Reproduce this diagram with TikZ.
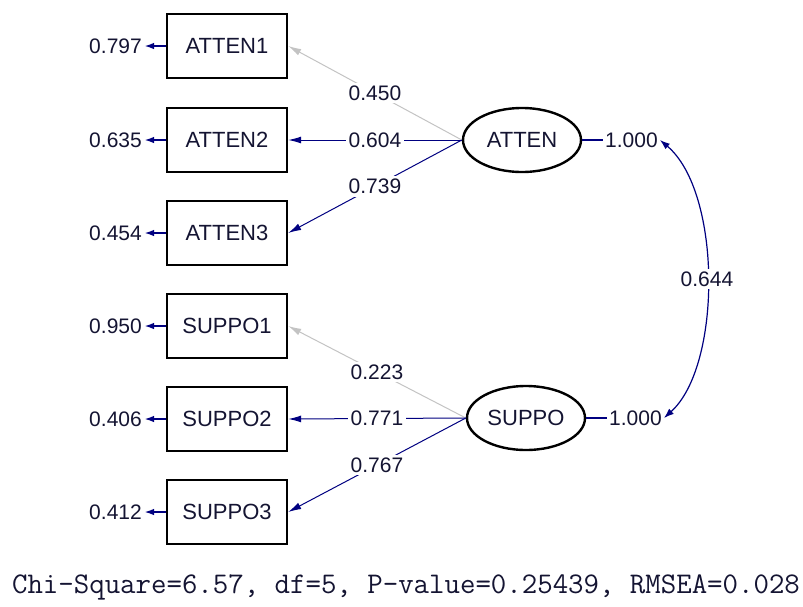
\documentclass[tikz,border=0pt]{standalone}
\usepackage{fontspec}
\setmainfont{Liberation Sans}
\usetikzlibrary{arrows.meta,shapes.geometric}
\definecolor{pathnavy}{RGB}{0,0,128}
\definecolor{pathgrey}{RGB}{195,195,195}
\definecolor{labink}{RGB}{20,20,50}
\tikzset{
  obsbox/.style={draw=black, line width=2.4pt, minimum width=120pt, minimum height=64pt,
    inner sep=0pt, font=\fontsize{22}{26}\selectfont, text=labink},
  latent/.style={draw=black, line width=2.4pt, ellipse, minimum width=118pt, minimum height=64pt,
    inner sep=0pt, font=\fontsize{22}{26}\selectfont, text=labink},
  numlab/.style={font=\fontsize{21}{25}\selectfont, text=labink, inner sep=2pt},
  onlab/.style={numlab, fill=white, inner sep=3pt},
  loadtip/.style={-{Latex[length=13pt,width=7pt]}},
  load/.style={loadtip, draw=pathnavy, line width=1pt},
  weak/.style={loadtip, draw=pathgrey, line width=1pt},
  errarr/.style={-{Latex[length=10pt,width=6.5pt]}, draw=pathnavy, line width=2.4pt},
  vline/.style={draw=pathnavy, line width=1.2pt},
  covarr/.style={{Latex[length=10pt,width=7pt]}-{Latex[length=10pt,width=7pt]}, draw=pathnavy, line width=1.2pt}
}
\begin{document}
\begin{tikzpicture}[x=1pt, y=-1pt]
\useasboundingbox (0,0) rectangle (803,606);

% observed indicators
\node[obsbox] (a1) at (227,46)  {ATTEN1};
\node[obsbox] (a2) at (227,140) {ATTEN2};
\node[obsbox] (a3) at (227,233) {ATTEN3};
\node[obsbox] (s1) at (227,326) {SUPPO1};
\node[obsbox] (s2) at (227,419) {SUPPO2};
\node[obsbox] (s3) at (227,512) {SUPPO3};

% latent factors
\node[latent] (fa) at (522,140) {ATTEN};
\node[latent] (fs) at (526,418) {SUPPO};

% error variances
\node[numlab, anchor=east] (ea1) at (144,46)  {0.797};
\node[numlab, anchor=east] (ea2) at (144,140) {0.635};
\node[numlab, anchor=east] (ea3) at (144,233) {0.454};
\node[numlab, anchor=east] (es1) at (144,326) {0.950};
\node[numlab, anchor=east] (es2) at (144,419) {0.406};
\node[numlab, anchor=east] (es3) at (144,512) {0.412};
\foreach \b/\e in {a1/ea1,a2/ea2,a3/ea3,s1/es1,s2/es2,s3/es3}
  \draw[errarr] (\b.west) -- (\e.east);

% factor loadings
\draw[weak] (fa.west) -- node[onlab, midway] {0.450} (a1.east);
\draw[load] (fa.west) -- node[onlab, midway] {0.604} (a2.east);
\draw[load] (fa.west) -- node[onlab, midway] {0.739} (a3.east);
\draw[weak] (fs.west) -- node[onlab, midway] {0.223} (s1.east);
\draw[load] (fs.west) -- node[onlab, midway] {0.771} (s2.east);
\draw[load] (fs.west) -- node[onlab, midway] {0.767} (s3.east);

% factor variances
\node[numlab, anchor=west] (va) at (603,140) {1.000};
\node[numlab, anchor=west] (vs) at (607,418) {1.000};
\draw[vline] (fa.east) -- (va.west);
\draw[vline] (fs.east) -- (vs.west);

% factor covariance
\draw[covarr] (va.east) .. controls (722,192) and (722,366) ..
  node[onlab, pos=0.5] {0.644} (vs.east);

% fit statistics
\node[font=\ttfamily\fontsize{30}{35}\selectfont, text=labink, inner sep=0pt] (fit) at (406,587)
  {Chi-Square=6.57, df=5, P-value=0.25439, RMSEA=0.028};
\end{tikzpicture}
\end{document}
